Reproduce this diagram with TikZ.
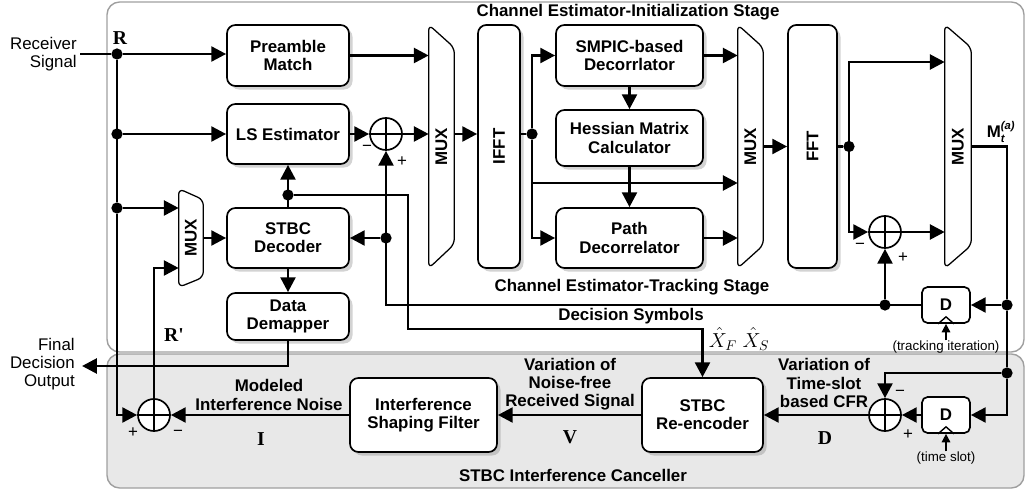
\documentclass[tikz,border=0pt]{standalone}
\usepackage{amsmath}
\usepackage{fontspec}
\setmainfont{Liberation Sans}
\newfontfamily\serifbf{Liberation Serif}
\usepackage{tikz}
\usetikzlibrary{arrows.meta,shadows,calc}

\begin{document}
\begin{tikzpicture}[x=0.025cm,y=-0.025cm]
\tikzstyle{stage}=[draw=gray!75,line width=1pt,rounded corners=9pt]
\tikzstyle{blk}=[draw,line width=1.2pt,rounded corners=6pt,fill=white,inner sep=0pt,align=center,font=\fontsize{12}{13}\selectfont\bfseries,drop shadow={shadow xshift=2.5pt,shadow yshift=-2.5pt,opacity=0.35}]
\tikzstyle{muxbox}=[inner sep=0pt,minimum width=0.625cm,minimum height=6.075cm]
\tikzstyle{muxline}=[draw,fill=white,line width=0.9pt,rounded corners=4pt]
\tikzstyle{sum}=[circle,draw,fill=white,line width=1.2pt,inner sep=0pt,minimum size=0.8cm,path picture={\draw[line width=1.2pt] (path picture bounding box.north) -- (path picture bounding box.south) (path picture bounding box.west) -- (path picture bounding box.east);}]
\tikzstyle{dot}=[circle,fill,inner sep=0pt,minimum size=8pt]
\tikzstyle{dly}=[draw,line width=1.2pt,rounded corners=4pt,fill=white,minimum width=1.2cm,minimum height=0.9cm,inner sep=0pt,font=\fontsize{12}{13}\selectfont\bfseries]
\tikzstyle{lbl}=[inner sep=0pt,align=center,font=\fontsize{12}{13}\selectfont\bfseries]
\tikzstyle{txt}=[inner sep=0pt,font=\fontsize{12}{13}\selectfont]
\tikzstyle{small}=[inner sep=0pt,font=\fontsize{9.5}{10}\selectfont]
\tikzstyle{big}=[inner sep=0pt,font=\fontsize{14}{15}\selectfont\serifbf\bfseries]
\tikzstyle{wire}=[line width=2pt]
\tikzstyle{sig}=[line width=2pt,-{Triangle[length=10.5pt,width=10.5pt]}]
\tikzstyle{clk}=[line width=1.2pt,-{Triangle[length=6pt,width=6pt]}]

\useasboundingbox (0,0) rectangle (1026,491);
% stage frames
\draw[stage] (107,2) rectangle (1024,352);
\draw[stage,fill=gray!18] (107,354) rectangle (1024,488);

% left column
\node[blk,minimum width=3.05cm,minimum height=1.525cm] (pm) at (288,55.5) {Preamble\\Match};
\node[blk,minimum width=3.05cm,minimum height=1.5cm] (ls) at (288,134) {LS Estimator};
\node[blk,minimum width=3.05cm,minimum height=1.5cm] (dec) at (288,238) {STBC\\Decoder};
\node[blk,minimum width=3.05cm,minimum height=1.175cm] (dmap) at (288,316.5) {Data\\Demapper};

\node[muxbox,minimum width=0.6cm,minimum height=2.45cm] (muxL) at (191,238) {};
\draw[muxline] (muxL.north west) -- ($(muxL.north east)+(0,11)$) -- ($(muxL.south east)+(0,-10)$) -- (muxL.south west) -- cycle;
\node[lbl,rotate=90] (muxLt) at (muxL) {MUX};

\node[muxbox] (mux1) at (441.5,146.5) {};
\draw[muxline] (mux1.north west) -- ($(mux1.north east)+(0,23)$) -- ($(mux1.south east)+(0,-24)$) -- (mux1.south west) -- cycle;
\node[lbl,rotate=90] (mux1t) at (mux1) {MUX};

\node[blk,minimum width=1.05cm,minimum height=6.075cm] (ifft) at (499,146.5) {};
\node[lbl,rotate=90] (ifftt) at (ifft) {IFFT};

% middle column
\node[blk,minimum width=3.675cm,minimum height=1.525cm] (smpic) at (629.5,55.5) {SMPIC-based\\Decorrlator};
\node[blk,minimum width=3.675cm,minimum height=1.4cm] (hess) at (629.5,138) {Hessian Matrix\\Calculator};
\node[blk,minimum width=3.675cm,minimum height=1.5cm] (path) at (629.5,238) {Path\\Decorrelator};

\node[muxbox] (mux2) at (750.5,146.5) {};
\draw[muxline] (mux2.north west) -- ($(mux2.north east)+(0,23)$) -- ($(mux2.south east)+(0,-23)$) -- (mux2.south west) -- cycle;
\node[lbl,rotate=90] (mux2t) at (mux2) {MUX};

\node[blk,minimum width=1.225cm,minimum height=6.075cm] (fft) at (812.5,146.5) {};
\node[lbl,rotate=90] (fftt) at (fft) {FFT};

\node[muxbox,minimum width=0.65cm] (mux3) at (958,146.5) {};
\draw[muxline] (mux3.north west) -- ($(mux3.north east)+(0,23)$) -- ($(mux3.south east)+(0,-23)$) -- (mux3.south west) -- cycle;
\node[lbl,rotate=90] (mux3t) at (mux3) {MUX};

% adders and delays
\node[sum] (s1) at (386,134) {};
\node[sum] (s2) at (885,232) {};
\node[sum] (s3) at (885,415) {};
\node[sum] (s4) at (154,415) {};
\node[dly] (d1) at (946,305) {D};
\node[dly] (d2) at (946,415) {D};
\draw[line width=1pt] ($(d1.south)+(-8,0)$) -- ($(d1.south)+(0,-7)$) -- ($(d1.south)+(8,0)$);
\draw[line width=1pt] ($(d2.south)+(-8,0)$) -- ($(d2.south)+(0,-7)$) -- ($(d2.south)+(8,0)$);

% canceller
\node[blk,minimum width=3.675cm,minimum height=1.85cm] (isf) at (423.5,415) {Interference\\Shaping Filter};
\node[blk,minimum width=3.025cm,minimum height=1.85cm] (renc) at (702.5,415) {STBC\\Re-encoder};

% junctions
\node[dot] (dR) at (117,54) {};
\node[dot] (dL) at (117,134) {};
\node[dot] (dM) at (117,208) {};
\node[dot] (dD) at (288,195) {};
\node[dot] (dS) at (386,238) {};
\node[dot] (dI) at (532,134) {};
\node[dot] (dF) at (849,146.5) {};
\node[dot] (dX) at (885,305) {};
\node[dot] (dT) at (1007,305) {};
\node[dot] (dC) at (1007,373) {};
\coordinate (rin) at (80,54);
\coordinate (fout) at (82,366);
\coordinate (ds) at (408,329);

% texts
\node[txt,align=right,anchor=east] (rxt) at (77,54) {Receiver\\Signal};
\node[txt,align=right,anchor=east] (fdt) at (75,364) {Final\\Decision\\Output};
\node[big] (rt) at (120,38) {R};
\node[big] (rpt) at (174,335) {R'};
\node[big] (it) at (261,439) {I};
\node[big] (vt) at (570,437) {V};
\node[big] (dt) at (825,438) {D};
\node[lbl] (cis) at (628,12) {Channel Estimator-Initialization Stage};
\node[lbl] (cts) at (632,287) {Channel Estimator-Tracking Stage};
\node[lbl] (dsl) at (631,316) {Decision Symbols};
\node[lbl] (sic) at (573,475) {STBC Interference Canceller};
\node[lbl] (mil) at (269,395) {Modeled\\Interference Noise};
\node[lbl] (vnl) at (570,384) {Variation of\\Noise-free\\Received Signal};
\node[lbl] (vtl) at (824,383) {Variation of\\Time-slot\\based CFR};
\node[inner sep=0pt,font=\fontsize{14}{15}\selectfont] (xl) at (739,339) {$\hat{X}_F\;\hat{X}_S$};
\node[lbl] (ml) at (1001,132) {M$_{\text{\bfseries\itshape t}}^{\text{\bfseries\itshape (a)}}$};
\node[small] (tk) at (946,347) {(tracking iteration)};
\node[small] (tsl) at (946,458) {(time slot)};
\node[txt] (m1) at (367,148) {−};
\node[txt] (p1) at (402,162) {+};
\node[txt] (m2) at (860,246) {−};
\node[txt] (p2) at (903,258) {+};
\node[txt] (m3) at (900,393) {−};
\node[txt] (p3) at (908,435) {+};
\node[txt] (p4) at (133,433) {+};
\node[txt] (m4) at (178,433) {−};

% receiver bus
\draw[wire] (rin) -- (dR);
\draw[sig] (dR) -- (pm.west |- dR);
\draw[wire] (dR) -- (dM);
\draw[sig] (dL) -- (ls.west |- dL);
\draw[sig] (dM) -- (muxL.west |- dM);
\draw[sig] (dM) |- (s4.west);
\draw[sig] (muxL.east) -- (dec.west);
\draw[sig] (s4.north) |- (muxL.west |- 0,268);
\draw[sig] (isf.west) -- (s4.east);

% decoder
\draw[sig] (dec.north) -- (ls.south);
\draw[sig] (dec.south) -- (dmap.north);
\draw[sig] (dmap.south) |- (fout);
\draw[sig] (dD) -| (ds) -| (renc.north);

% initialization
\draw[sig] (pm.east) -- (mux1.west |- pm.east);
\draw[sig] (ls.east) -- (s1.west);
\draw[sig] (s1.east) -- (mux1.west |- s1);
\draw[sig] (mux1.east |- s1) -- (ifft.west |- s1);
\draw[wire] (ifft.east |- dI) -- (dI);
\draw[sig] (dI) |- (smpic.west);
\draw[sig] (dI) |- (path.west);
\draw[sig] (dI |- 0,183) -- (mux2.west |- 0,183);
\draw[sig] (smpic.south) -- (hess.north);
\draw[sig] (hess.south) -- (path.north);
\draw[sig] (smpic.east) -- (mux2.west |- smpic.east);
\draw[sig] (path.east) -- (mux2.west |- path.east);
\draw[sig] (mux2.east) -- (fft.west);
\draw[wire] (fft.east) -- (dF);
\draw[sig] (dF) |- (mux3.west |- 0,62);
\draw[sig] (dF) |- (s2.west);
\draw[sig] (s2.east) -- (mux3.west |- s2);

% tracking and delays
\draw[wire] (mux3.east) -| (dT);
\draw[wire] (dT) -- (dC);
\draw[sig] (dT) -- (d1.east);
\draw[sig] (dC) |- (d2.east);
\draw[sig] (dC) -| (s3.north);
\draw[sig] (d1.west) -| (s1.south);
\draw[sig] (dX) -- (s2.south);
\draw[sig] (dS) -- (dec.east |- dS);
\draw[clk] (tk.north) -- (d1.south);
\draw[clk] (tsl.north) -- (d2.south);

% canceller chain
\draw[sig] (d2.west) -- (s3.east);
\draw[sig] (s3.west) -- (renc.east);
\draw[sig] (renc.west) -- (isf.east);
\end{tikzpicture}
\end{document}
